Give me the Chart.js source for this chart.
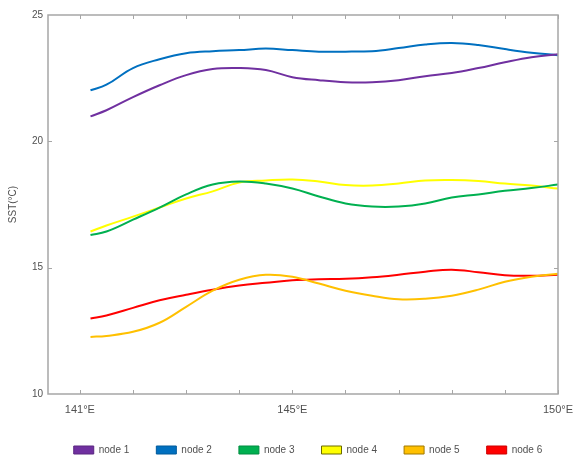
<!DOCTYPE html>
<html>
<head>
<meta charset="utf-8">
<script src="https://cdn.jsdelivr.net/npm/chart.js@4.4.1/dist/chart.umd.min.js"></script>
<style>
  html, body { margin: 0; padding: 0; background: #fff; }
  #wrap { width: 577px; height: 459px; }
</style>
</head>
<body>
<div id="wrap"><canvas id="sst_chart"></canvas></div>
<script>
// longitude samples (deg E) along the section
var lon = [141.2, 141.5, 142, 142.5, 143, 143.5, 144, 144.5, 145, 145.5, 146, 146.5, 147, 147.5, 148, 148.5, 149, 149.5, 150];

// SST per node
var node1 = [20.99, 21.23, 21.75, 22.22, 22.62, 22.86, 22.90, 22.82, 22.54, 22.42, 22.34, 22.34, 22.42, 22.58, 22.70, 22.90, 23.13, 23.33, 23.45];
var node2 = [22.02, 22.24, 22.90, 23.25, 23.49, 23.57, 23.61, 23.67, 23.61, 23.55, 23.55, 23.57, 23.69, 23.83, 23.89, 23.81, 23.65, 23.51, 23.41];
var node3 = [16.29, 16.43, 16.90, 17.38, 17.90, 18.29, 18.41, 18.33, 18.13, 17.82, 17.54, 17.42, 17.42, 17.54, 17.78, 17.90, 18.04, 18.15, 18.29];
var node4 = [16.43, 16.67, 17.02, 17.38, 17.74, 18.02, 18.37, 18.45, 18.49, 18.41, 18.27, 18.25, 18.33, 18.45, 18.47, 18.43, 18.33, 18.25, 18.13];
var node5 = [12.26, 12.30, 12.46, 12.82, 13.45, 14.09, 14.52, 14.72, 14.64, 14.37, 14.09, 13.89, 13.75, 13.77, 13.89, 14.13, 14.44, 14.64, 14.76];
var node6 = [12.99, 13.11, 13.41, 13.71, 13.93, 14.13, 14.29, 14.40, 14.50, 14.54, 14.56, 14.62, 14.72, 14.84, 14.92, 14.82, 14.70, 14.68, 14.72];

var nodeNames = ['node 1', 'node 2', 'node 3', 'node 4', 'node 5', 'node 6'];
var nodeColors = ['#7030a0', '#0070c0', '#00b050', '#ffff00', '#ffc000', '#ff0000'];
var nodeBorders = ['#5a2680', '#005a9a', '#008c40', '#6b6b00', '#a07800', '#cc0000'];

var xTicks = [141, 142, 143, 144, 145, 146, 147, 148, 149, 150];
var xLabels = { 141: '141°E', 145: '145°E', 150: '150°E' };

var frameColor = '#a6a6a6';
var textColor = '#505050';

function toPoints(values)
{
  return values.map(function(v, i) { return { x: lon[i], y: v }; });
}

var allNodes = [node1, node2, node3, node4, node5, node6];
var datasets = allNodes.map(function(values, i)
{
  return {
    label: nodeNames[i],
    data: toPoints(values),
    borderColor: nodeColors[i],
    backgroundColor: nodeColors[i],
    borderWidth: 2,
    pointRadius: 0,
    tension: 0.4,
    fill: false
  };
});

// box round the plot plus the small inward tick marks on all four sides
var frameTicks =
{
  id: 'frameTicks',
  afterDraw: function(chart)
  {
    var ctx = chart.ctx;
    var area = chart.chartArea;
    var xs = chart.scales.x;
    var ys = chart.scales.y;
    ctx.save();
    ctx.strokeStyle = frameColor;
    ctx.lineWidth = 1.5;
    ctx.strokeRect(area.left, area.top, area.right - area.left, area.bottom - area.top);
    ctx.lineWidth = 1;
    ctx.beginPath();
    xTicks.forEach(function(t)
    {
      var px = Math.round(xs.getPixelForValue(t)) + 0.5;
      ctx.moveTo(px, area.bottom);
      ctx.lineTo(px, area.bottom - 4);
      ctx.moveTo(px, area.top);
      ctx.lineTo(px, area.top + 4);
    });
    [15, 20].forEach(function(t)
    {
      var py = Math.round(ys.getPixelForValue(t)) + 0.5;
      ctx.moveTo(area.left, py);
      ctx.lineTo(area.left + 4, py);
      ctx.moveTo(area.right, py);
      ctx.lineTo(area.right - 4, py);
    });
    ctx.stroke();
    ctx.restore();
  }
};

// move the legend row a little right and down, like the figure,
// and give the x labels room below their thin layout box
var legendShift =
{
  id: 'legendShift',
  afterLayout: function(chart)
  {
    var lg = chart.legend;
    lg.left += 29;
    lg.right += 29;
    lg.top += 8;
    lg.bottom += 8;
    chart.scales.x.bottom += 20;
  }
};

var sstCanvas = document.getElementById('sst_chart').getContext('2d');

var sstChart = new Chart(sstCanvas,
{
  type: 'line',
  data: { datasets: datasets },
  plugins: [frameTicks, legendShift],
  options:
  {
    responsive: true,
    maintainAspectRatio: false,
    animation: false,
    layout: { padding: { top: 15, right: 19, left: 0, bottom: 2 } },
    scales:
    {
      x:
      {
        type: 'linear',
        min: 140.4,
        max: 150,
        afterBuildTicks: function(scale)
        {
          scale.ticks = xTicks.map(function(t) { return { value: t }; });
        },
        afterFit: function(scale)
        {
          scale.height = 16;
          scale.paddingLeft = 0;
          scale.paddingRight = 0;
        },
        grid: { display: false, drawTicks: false },
        border: { display: false },
        ticks:
        {
          autoSkip: false,
          maxRotation: 0,
          padding: 9,
          color: textColor,
          font: { family: 'Liberation Sans, Arial, sans-serif', size: 11 },
          callback: function(value) { return xLabels[value] || ''; }
        }
      },
      y:
      {
        min: 10,
        max: 25,
        afterFit: function(scale) { scale.width = 48; },
        grid: { display: false, drawTicks: false },
        border: { display: false },
        ticks:
        {
          stepSize: 5,
          padding: 5,
          color: textColor,
          font: { family: 'Liberation Sans, Arial, sans-serif', size: 10 }
        },
        title:
        {
          display: true,
          text: 'SST(°C)',
          color: textColor,
          padding: { top: 7, bottom: 0 },
          font: { family: 'Liberation Sans, Arial, sans-serif', size: 10 }
        }
      }
    },
    plugins:
    {
      tooltip: { enabled: false },
      legend:
      {
        position: 'bottom',
        labels:
        {
          boxWidth: 20,
          boxHeight: 8,
          padding: 27,
          color: textColor,
          font: { family: 'Liberation Sans, Arial, sans-serif', size: 10 },
          generateLabels: function(chart)
          {
            return chart.data.datasets.map(function(ds, i)
            {
              return {
                text: ds.label,
                fillStyle: nodeColors[i],
                strokeStyle: nodeBorders[i],
                lineWidth: 1,
                fontColor: textColor,
                datasetIndex: i
              };
            });
          }
        }
      }
    }
  }
});
</script>
</body>
</html>
